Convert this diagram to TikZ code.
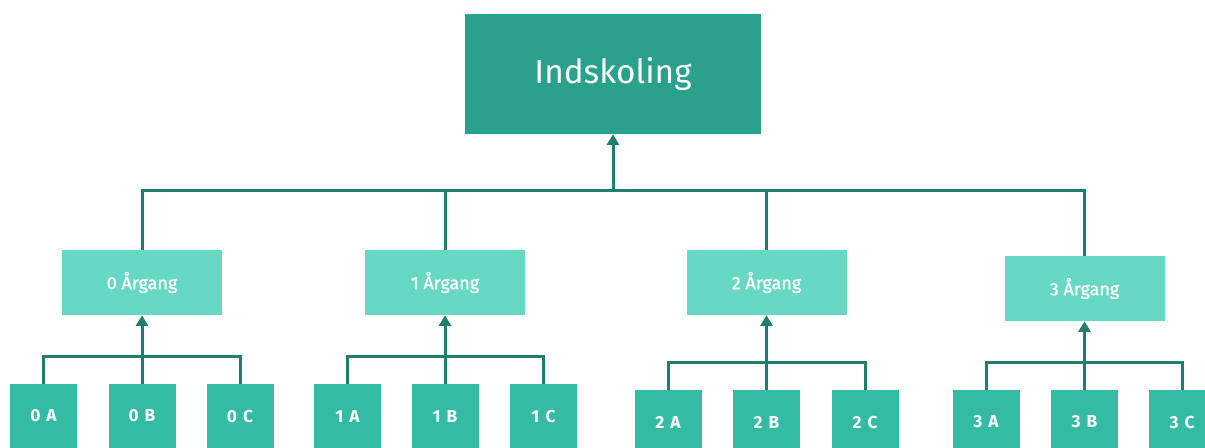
\documentclass[tikz,border=0pt]{standalone}
\usepackage{fontspec}
\setmainfont{Fira Sans}
\usetikzlibrary{arrows.meta}
\definecolor{topc}{HTML}{2AA18C}
\definecolor{midc}{HTML}{66D8C4}
\definecolor{lowc}{HTML}{33BBA4}
\definecolor{linec}{HTML}{1F7F6E}
\tikzset{
  topbox/.style={fill=topc, text=white, minimum width=222pt, minimum height=90pt, inner sep=0pt, font=\fontsize{25}{30}\selectfont},
  midbox/.style={fill=midc, text=white, minimum width=120pt, minimum height=48.75pt, inner sep=0pt, font=\fontsize{13.5}{16}\selectfont\addfontfeature{FakeBold=1.2}},
  lowbox/.style={fill=lowc, text=white, minimum width=50.25pt, minimum height=48pt, inner sep=0pt, font=\fontsize{13}{15}\selectfont\bfseries\addfontfeature{LetterSpace=11}},
  conn/.style={draw=linec, line width=2.25pt},
  arr/.style={conn, -{Triangle[width=9pt,length=8pt]}}
}
\begin{document}
\begin{tikzpicture}[x=0.75pt,y=-0.75pt]
\useasboundingbox (0,0) rectangle (1205,448);
\clip (0,0) rectangle (1205,448);
\node[topbox] (top) at (613,74) {Indskoling};
\node[midbox] (p0) at (142,282.5) {0 Årgang};
\node[midbox] (p1) at (445,282.5) {1 Årgang};
\node[midbox] (p2) at (766.5,282.5) {2 Årgang};
\node[midbox] (p3) at (1084.5,288.5) {3 Årgang};
\node[lowbox] (a0) at (43.5,416) {0 A};
\node[lowbox] (b0) at (142,416) {0 B};
\node[lowbox] (c0) at (240,416) {0 C};
\node[lowbox] (a1) at (347.5,416) {1 A};
\node[lowbox] (b1) at (445,416) {1 B};
\node[lowbox] (c1) at (543.5,416) {1 C};
\node[lowbox] (a2) at (668,422) {2 A};
\node[lowbox] (b2) at (766.5,422) {2 B};
\node[lowbox] (c2) at (865,422) {2 C};
\node[lowbox] (a3) at (986,422) {3 A};
\node[lowbox] (b3) at (1084.5,422) {3 B};
\node[lowbox] (c3) at (1182,422) {3 C};
% top bus
\coordinate (tb) at (613,191);
\draw[conn] (p0.north) |- (p3.north |- tb) -- (p3.north);
\draw[conn] (p1.north) -- (p1.north |- tb);
\draw[conn] (p2.north) -- (p2.north |- tb);
\draw[arr] (top.south |- tb) -- (top.south);
% groups
\coordinate (g01) at (0,357);
\coordinate (g23) at (0,363);
\draw[conn] (a0.north) |- (c0.north |- g01) -- (c0.north);
\draw[arr] (b0.north) -- (p0.south);
\draw[conn] (a1.north) |- (c1.north |- g01) -- (c1.north);
\draw[arr] (b1.north) -- (p1.south);
\draw[conn] (a2.north) |- (c2.north |- g23) -- (c2.north);
\draw[arr] (b2.north) -- (p2.south);
\draw[conn] (a3.north) |- (c3.north |- g23) -- (c3.north);
\draw[arr] (b3.north) -- (p3.south);
\end{tikzpicture}
\end{document}
